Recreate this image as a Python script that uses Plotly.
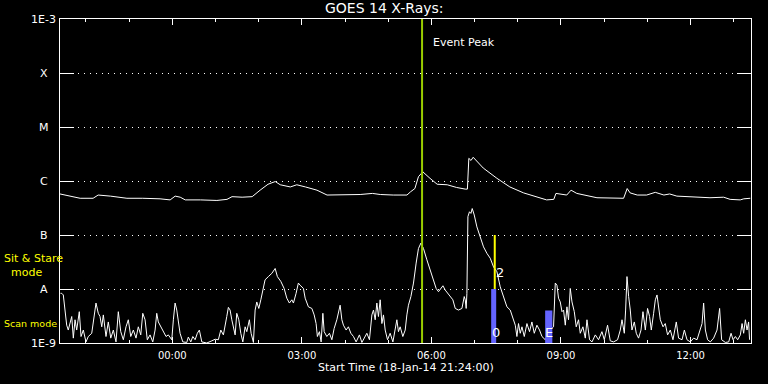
import numpy as np
import pandas as pd
import plotly.graph_objects as go

# ---------------- data ----------------
START = "2014-01-18 21:24:00"
SPAN_HOURS = 16

# GOES 14 long channel (1-8 A): minutes after start, log10 flux (W/m^2)
long_min = [0, 14, 28, 46, 53, 70, 93, 115, 139, 153, 160, 167, 174, 195, 218,
            232, 239, 253, 267, 278, 289, 299, 306, 320, 329, 341, 357, 371, 399, 417,
            434, 445, 463, 482, 487, 493, 498, 504, 514, 524, 538, 551, 563, 566, 568,
            571, 574, 588, 607, 625, 644, 663, 676, 686, 689, 704, 710, 718, 737, 746,
            783, 788, 792, 802, 815, 827, 839, 847, 857, 880, 903, 922, 931, 945, 950, 959]
long_log = [-6.24, -6.28, -6.32, -6.32, -6.26, -6.28, -6.32, -6.32, -6.33, -6.35,
            -6.28, -6.30, -6.35, -6.35, -6.36, -6.34, -6.29, -6.30, -6.29, -6.17,
            -6.06, -6.01, -6.07, -6.11, -6.07, -6.11, -6.17, -6.26, -6.26, -6.25,
            -6.23, -6.25, -6.26, -6.26, -6.20, -6.14, -5.92, -5.83, -5.95, -6.06,
            -6.07, -6.12, -6.15, -6.15, -5.58, -5.62, -5.56, -5.76, -5.95, -6.11,
            -6.22, -6.30, -6.35, -6.34, -6.23, -6.26, -6.17, -6.23, -6.28, -6.31,
            -6.32, -6.14, -6.22, -6.26, -6.26, -6.21, -6.26, -6.24, -6.28, -6.29,
            -6.31, -6.30, -6.34, -6.35, -6.33, -6.32]

# GOES 14 short channel (0.5-4 A): minutes after start, log10 flux
short_min = [0.7, 2.4, 4.6, 7.0, 9.3, 11.5, 13.9, 16.3, 18.5, 20.9, 23.2, 26.8, 29.2, 32.4, 36.1,
             39.3, 44.1, 46.3, 50.0, 53.2, 55.6, 58.0, 60.2, 63.9, 67.1, 70.5, 74.1, 77.8, 81.0,
             84.4, 88.0, 91.7, 94.9, 98.3, 101.9, 105.6, 108.8, 112.2, 115.0, 118.2, 121.3, 125.1,
             128.9, 132.1, 134.4, 136.6, 140.0, 143.6, 147.3, 150.5, 155.3, 157.5, 159.9, 162.2,
             164.4, 166.8, 170.6, 176.1, 178.3, 181.7, 184.5, 187.7, 190.8, 193.6, 197.0, 203.9,
             210.9, 215.5, 220.0, 223.4, 227.0, 229.4, 231.7, 233.9, 236.3, 238.7, 240.9, 243.3,
             245.6, 248.4, 251.2, 254.0, 257.2, 259.5, 263.1, 265.5, 268.7, 271.1, 273.4, 276.2,
             279.0, 281.8, 284.9, 289.5, 294.3, 298.9, 302.0, 306.8, 311.4, 315.1, 318.7, 322.1,
             324.3, 328.0, 331.2, 333.6, 338.2, 340.6, 345.1, 349.9, 353.1, 355.8, 357.6, 360.4,
             362.8, 365.2, 367.0, 370.7, 374.3, 377.7, 380.9, 384.6, 386.8, 389.2, 391.6, 393.8,
             397.5, 400.7, 404.1, 407.7, 411.4, 416.0, 419.4, 424.0, 426.3, 429.9, 433.3, 435.5,
             437.9, 440.2, 442.4, 444.8, 447.2, 449.4, 451.8, 455.0, 458.7, 462.5, 465.7, 468.0,
             470.2, 472.6, 476.3, 479.6, 481.9, 484.1, 487.5, 491.1, 494.8, 498.0, 501.4, 505.0,
             509.7, 514.3, 518.9, 522.6, 525.8, 529.2, 532.0, 535.2, 538.3, 542.1, 545.8, 549.1,
             553.6, 558.4, 561.6, 563.0, 564.3, 565.3, 566.7, 568.9, 570.9, 572.7, 575.5, 579.2,
             583.8, 588.4, 593.1, 597.7, 602.3, 607.0, 611.6, 616.2, 620.9, 625.5, 629.3, 632.5,
             634.8, 637.0, 639.4, 641.8, 645.0, 648.7, 652.3, 655.6, 658.9, 662.6, 666.2, 669.6,
             674.2, 681.1, 685.7, 688.1, 690.4, 692.6, 695.0, 697.4, 699.6, 702.0, 704.3, 706.5,
             708.9, 711.3, 714.5, 717.2, 720.4, 722.8, 726.5, 729.8, 732.1, 735.7, 739.1, 743.7,
             748.2, 752.9, 756.2, 760.7, 764.5, 769.1, 774.6, 778.4, 780.8, 784.0, 785.8, 787.7,
             790.0, 792.3, 794.6, 797.9, 800.6, 803.8, 807.2, 809.9, 813.2, 816.3, 819.1, 821.5,
             824.7, 827.1, 829.4, 831.6, 834.0, 837.8, 840.9, 844.1, 847.9, 851.6, 856.2, 859.4,
             864.2, 867.4, 871.1, 875.7, 880.3, 885.0, 889.6, 892.0, 894.2, 896.6, 899.7, 903.5,
             908.1, 912.8, 916.4, 919.2, 924.4, 929.0, 932.3, 935.1, 938.3, 941.5, 945.2, 947.6,
             949.8, 952.2, 954.5, 956.7, 958.0]
short_log = [-8.08, -8.08, -8.11, -8.39, -8.67, -8.76, -8.61, -8.51, -8.91, -8.57, -8.76, -8.42, -8.88, -8.76, -8.98,
             -8.88, -8.82, -8.61, -8.26, -8.45, -8.51, -8.70, -8.48, -8.88, -8.61, -8.91, -8.76, -8.98, -8.42,
             -8.79, -8.94, -8.70, -8.57, -8.88, -8.76, -8.91, -8.70, -8.85, -8.45, -8.57, -8.94, -8.85,
             -8.98, -8.76, -8.45, -8.61, -8.70, -8.79, -8.88, -8.85, -8.94, -8.57, -8.26, -8.39,
             -8.57, -8.82, -8.98, -8.99, -8.89, -8.98, -8.88, -8.94, -8.82, -8.76, -8.98, -9.00,
             -8.96, -8.93, -8.94, -8.76, -8.85, -8.64, -8.51, -8.34, -8.39, -8.57, -8.70, -8.85,
             -8.45, -8.57, -8.82, -8.98, -8.70, -8.79, -8.57, -8.82, -8.99, -8.39, -8.24, -8.36,
             -8.20, -8.02, -7.83, -7.77, -7.71, -7.62, -7.77, -7.86, -7.99, -8.17, -8.26, -8.20,
             -8.26, -8.08, -7.89, -7.93, -7.99, -8.17, -8.33, -8.36, -8.48, -8.64, -8.88, -8.79,
             -8.98, -8.45, -8.79, -8.88, -8.82, -8.94, -8.73, -8.57, -8.45, -8.30, -8.57, -8.67,
             -8.76, -8.70, -8.82, -8.88, -8.98, -8.85, -8.99, -8.88, -8.82, -8.94, -8.48, -8.39,
             -8.57, -8.26, -8.51, -8.20, -8.64, -8.48, -8.76, -8.94, -8.82, -8.98, -8.73, -8.57,
             -8.79, -8.70, -8.88, -8.76, -8.48, -8.30, -8.14, -7.89, -7.52, -7.25, -7.15, -7.25,
             -7.46, -7.65, -7.83, -7.99, -8.05, -7.99, -7.94, -8.02, -8.07, -8.15, -8.20, -8.36,
             -8.39, -8.36, -8.14, -8.20, -8.36, -8.08, -6.66, -6.57, -6.60, -6.51, -6.63, -6.85,
             -7.03, -7.22, -7.34, -7.43, -7.59, -7.68, -7.96, -8.14, -8.33, -8.39, -8.54, -8.67,
             -8.88, -8.64, -8.82, -8.70, -8.88, -8.64, -8.79, -8.61, -8.82, -8.67, -8.76, -8.88,
             -8.94, -8.76, -8.70, -7.89, -7.93, -8.17, -8.24, -8.42, -8.39, -8.67, -8.33, -8.57,
             -7.99, -8.24, -8.42, -8.70, -8.57, -8.82, -8.70, -8.91, -8.57, -8.94, -8.98, -8.85,
             -8.94, -8.79, -8.94, -8.67, -8.96, -8.98, -8.94, -8.76, -8.57, -8.82, -8.39, -7.77,
             -8.14, -8.39, -8.76, -8.61, -8.82, -8.91, -8.76, -8.42, -8.76, -8.36, -8.51, -8.76,
             -8.45, -8.20, -8.11, -8.30, -8.57, -8.70, -8.64, -8.85, -8.76, -8.94, -8.61, -8.91,
             -8.94, -8.76, -8.94, -8.98, -8.91, -8.94, -8.76, -8.64, -8.26, -8.76, -8.94, -8.98,
             -8.91, -8.76, -8.36, -8.94, -8.99, -8.98, -8.82, -8.94, -8.88, -8.94, -8.85, -8.64,
             -8.82, -8.57, -8.76, -8.61, -8.94]

# y-axis levels and labels
level_values = [1e-9, 1e-8, 1e-7, 1e-6, 1e-5, 1e-4, 1e-3]
level_labels = ["1E-9", "A", "B", "C", "M", "X", "1E-3"]

# time ticks
tick_times = ["2014-01-19 00:00", "2014-01-19 03:00", "2014-01-19 06:00",
              "2014-01-19 09:00", "2014-01-19 12:00"]

# event peak and observation windows
event_peak = "2014-01-19 05:47"
scan_start = ["2014-01-19 07:23", "2014-01-19 08:38"]
scan_end = ["2014-01-19 07:30", "2014-01-19 08:48"]
scan_top = [1e-8, 4e-9]
scan_labels = ["0", "E"]
stare_time = ["2014-01-19 07:28"]
stare_low = [1e-8]
stare_high = [1e-7]
stare_labels = ["2"]

# ---------------- figure ----------------
start = pd.Timestamp(START)
end = start + pd.Timedelta(hours=SPAN_HOURS)


def to_times(mins):
    return [start + pd.Timedelta(minutes=float(m)) for m in mins]


FONT = "DejaVu Sans"
fig = go.Figure()

fig.add_trace(go.Scatter(x=to_times(long_min), y=10 ** np.array(long_log),
                         mode="lines", line=dict(color="white", width=1),
                         hoverinfo="skip"))
fig.add_trace(go.Scatter(x=to_times(short_min), y=10 ** np.array(short_log),
                         mode="lines", line=dict(color="white", width=1),
                         hoverinfo="skip"))

# scan-mode bars
for s, e, top in zip(scan_start, scan_end, scan_top):
    fig.add_trace(go.Scatter(x=[s, e, e, s, s],
                             y=[level_values[0], level_values[0], top, top, level_values[0]],
                             mode="lines", fill="toself", fillcolor="#6464ff",
                             line=dict(width=0, color="#6464ff"), hoverinfo="skip"))

# sit & stare line
for t, lo, hi in zip(stare_time, stare_low, stare_high):
    fig.add_trace(go.Scatter(x=[t, t], y=[lo, hi], mode="lines",
                             line=dict(color="#ffff00", width=2), hoverinfo="skip"))

fig.add_shape(type="line", xref="x", yref="paper", x0=event_peak, x1=event_peak,
              y0=0, y1=1, line=dict(color="#99cc00", width=2), layer="above")

ann = []
ann.append(dict(x=event_peak, y=0.926, xref="x", yref="paper", text="Event Peak",
                showarrow=False, xanchor="left", yanchor="middle", xshift=9,
                font=dict(family=FONT, size=11, color="white")))

for s, e, lab in zip(scan_start, scan_end, scan_labels):
    xc = pd.Timestamp(e) if lab == "0" else pd.Timestamp(s) + (pd.Timestamp(e) - pd.Timestamp(s)) / 2
    ann.append(dict(x=xc, y=0.032, xref="x", yref="paper", text=lab, showarrow=False,
                    xanchor="center", yanchor="middle",
                    font=dict(family=FONT, size=13, color="white")))
for t, lab in zip(stare_time, stare_labels):
    ann.append(dict(x=t, y=0.218, xref="x", yref="paper", text=lab, showarrow=False,
                    xanchor="center", yanchor="middle", xshift=5,
                    font=dict(family=FONT, size=13, color="white")))

# y-axis level labels (centered to the left of the axis)
for v, lab in zip(level_values, level_labels):
    ann.append(dict(x=-0.0232, y=np.log10(v), xref="paper", yref="y", text=lab,
                    showarrow=False, xanchor="center", yanchor="middle",
                    font=dict(family=FONT, size=11, color="white")))

# mode labels
ann.append(dict(x=-0.0839, y=0.238, xref="paper", yref="paper",
                text="Sit & Stare<br>\u00a0\u00a0mode",
                showarrow=False, xanchor="left", yanchor="middle", align="left",
                font=dict(family=FONT, size=11, color="#ffff00")))
ann.append(dict(x=-0.0839, y=0.060, xref="paper", yref="paper", text="Scan mode",
                showarrow=False, xanchor="left", yanchor="middle",
                font=dict(family=FONT, size=9.5, color="#ffff00")))

# title and x title
ann.append(dict(x=0.4689, y=1.034, xref="paper", yref="paper", text="GOES 14 X-Rays:",
                showarrow=False, xanchor="center", yanchor="middle",
                font=dict(family=FONT, size=14, color="white")))
ann.append(dict(x=0.5, y=-0.077, xref="paper", yref="paper",
                text="Start Time (18-Jan-14 21:24:00)",
                showarrow=False, xanchor="center", yanchor="middle",
                font=dict(family=FONT, size=11, color="white")))

fig.update_layout(
    width=768, height=384,
    margin=dict(l=60, r=17, t=19, b=41),
    paper_bgcolor="black", plot_bgcolor="black",
    showlegend=False,
    annotations=ann,
    xaxis=dict(type="date", range=[start, end],
               tickvals=tick_times, tickformat="%H:%M",
               ticks="inside", ticklen=6, tickcolor="white", tickwidth=1,
               showline=True, linecolor="white", linewidth=1, mirror="ticks",
               showgrid=False, zeroline=False, ticklabelstandoff=3,
               tickfont=dict(family=FONT, size=10, color="white"),
               minor=dict(dtick=3600000, tick0="2014-01-19 00:00", ticks="inside",
                          ticklen=3, tickcolor="white", showgrid=False)),
    yaxis=dict(type="log", range=[-9, -3], tickvals=level_values,
               showticklabels=False,
               ticks="inside", ticklen=14, tickcolor="white", tickwidth=1,
               showline=True, linecolor="white", linewidth=1, mirror="ticks",
               showgrid=True, gridcolor="white", gridwidth=1, griddash="1px,5px",
               zeroline=False),
)

fig.write_html("out.html", config={"displayModeBar": False},
               post_script="document.body.style.margin='0';document.body.style.padding='0';"
                           "document.body.style.background='black';")
